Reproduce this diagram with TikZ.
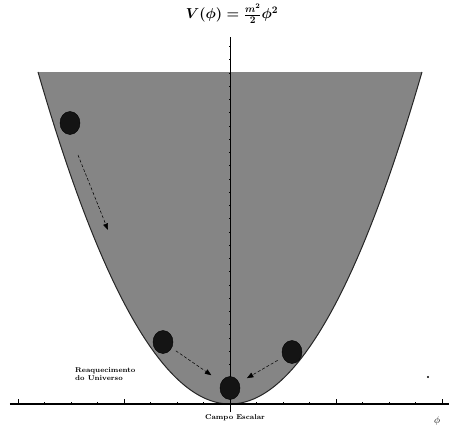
\documentclass[tikz,border=0pt]{standalone}
\usetikzlibrary{arrows.meta, shapes.geometric}

\tikzset{
    ball/.style={ellipse, draw=black, fill=black!92, inner sep=0pt,
        minimum width=20pt, minimum height=23pt},
    roll/.style={densely dashed, line width=0.5pt,
        -{Triangle[length=6.5pt, width=5pt]}},
    lbl/.style={font=\scriptsize\bfseries, inner sep=0pt}
}

\begin{document}
\begin{tikzpicture}[x=1pt, y=1pt]
    % параметры
    \def\A{192}    % полуширина параболы
    \def\B{332}    % высота параболы
    \def\D{26.5}   % шаг делений

    \useasboundingbox (-230,-28) rectangle (219,404);

    % заливка потенциала
    \fill[black!48] plot[domain=-\A:\A, samples=90] (\x, {\B*(\x/\A)^2}) -- cycle;
    \draw[line width=1pt, black!85] plot[domain=-\A:\A, samples=90] (\x, {\B*(\x/\A)^2});

    % оси
    \draw[line width=1.2pt] (-220,0) -- (219,0);
    \draw[line width=0.8pt] (0,-8) -- (0,367);
    \foreach \n in {-8,...,8}
        \draw[line width=0.6pt] (\n*\D,0) -- ++(0,2.5);
    \foreach \n in {-8,-4,4,8}
        \draw[line width=0.6pt] (\n*\D,0) -- ++(0,5);
    \foreach \k in {1,...,27}
        \draw[line width=0.3pt] (-1,\k*13.25) -- (1,\k*13.25);

    % подписи
    \node[font={\Large\boldmath}] (title) at (2,390) {$V(\phi)=\frac{m^2}{2}\phi^2$};
    \node[lbl, anchor=west, align=left] (reheat) at (-155,30) {Reaquecimento\\do Universo};
    \node[lbl] (field) at (5,-14) {Campo Escalar};
    \node (phi) at (207,-17) {$\phi$};
    \fill (198,27) circle (1.2pt);

    % шарики
    \node[ball] (b1) at (-160,281) {};
    \node[ball] (b2) at (-67,62) {};
    \node[ball] (b3) at (62,52) {};
    \node[ball] (b4) at (0,16) {};

    % стрелки
    \coordinate (s1) at (-152,249);
    \coordinate (e1) at (-122,174);
    \draw[roll] (s1) -- (e1);
    \draw[roll, shorten <=5pt, shorten >=12pt] (b2) -- (b4);
    \draw[roll, shorten <=6pt, shorten >=9pt] (b3) -- (b4);
\end{tikzpicture}
\end{document}
